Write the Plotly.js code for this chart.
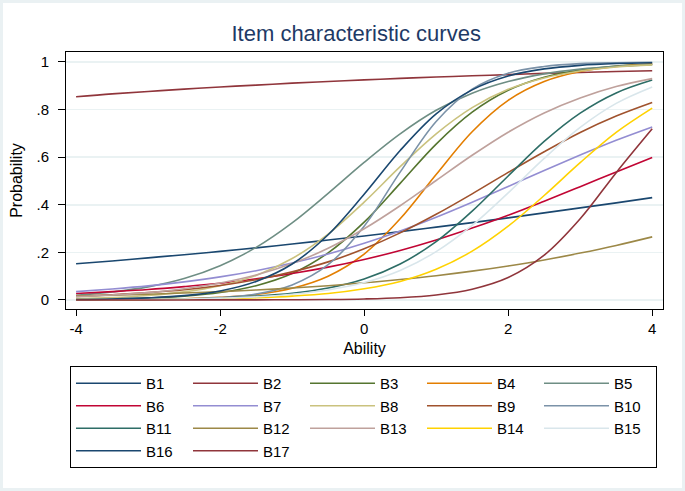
<!DOCTYPE html>
<html>
<head>
<meta charset="utf-8">
<script src="https://cdn.plot.ly/plotly-3.0.1.min.js"></script>
<style>
html,body{margin:0;padding:0;background:#fff;}
#wrap{position:relative;width:685px;height:491px;}
#chart{width:685px;height:491px;}
#edge{position:absolute;left:0;top:0;width:685px;height:491px;box-sizing:border-box;border:3px solid #eaf1f3;pointer-events:none;}
</style>
</head>
<body>
<div id="wrap"><div id="chart"></div><div id="edge"></div></div>
<script>
// Ability grid
const ability = [-4,-3.5,-3,-2.5,-2,-1.5,-1,-0.5,0,0.5,1,1.5,2,2.5,3,3.5,4];

// Probability for each item
const B1  = [0.152,0.164,0.177,0.190,0.204,0.219,0.235,0.252,0.269,0.287,0.306,0.325,0.345,0.366,0.387,0.408,0.430];
const B2  = [0.854,0.866,0.876,0.886,0.895,0.903,0.911,0.918,0.925,0.931,0.937,0.942,0.947,0.952,0.956,0.960,0.963];
const B3  = [0.0021,0.0041,0.0082,0.016,0.031,0.060,0.111,0.198,0.327,0.490,0.655,0.789,0.881,0.936,0.966,0.983,0.991];
const B4  = [0.0005,0.0011,0.0024,0.0051,0.011,0.023,0.049,0.100,0.193,0.341,0.527,0.707,0.839,0.918,0.960,0.981,0.991];
const B5  = [0.020,0.034,0.055,0.090,0.144,0.221,0.324,0.448,0.578,0.698,0.797,0.869,0.918,0.950,0.970,0.982,0.989];
const B6  = [0.027,0.035,0.044,0.056,0.070,0.089,0.111,0.138,0.170,0.208,0.252,0.302,0.356,0.415,0.476,0.538,0.599];
const B7  = [0.035,0.046,0.059,0.076,0.097,0.123,0.155,0.193,0.238,0.290,0.348,0.411,0.477,0.544,0.609,0.671,0.727];
const B8  = [0.0057,0.010,0.019,0.034,0.060,0.103,0.174,0.277,0.411,0.560,0.698,0.808,0.885,0.933,0.962,0.979,0.988];
const B9  = [0.015,0.022,0.031,0.043,0.061,0.085,0.118,0.160,0.215,0.282,0.360,0.446,0.536,0.623,0.704,0.773,0.830];
const B10 = [0.0002,0.0006,0.0015,0.0039,0.010,0.025,0.063,0.148,0.310,0.537,0.750,0.886,0.953,0.981,0.993,0.997,0.999];
const B11 = [0.0008,0.0014,0.0026,0.0047,0.0085,0.016,0.028,0.050,0.088,0.151,0.245,0.373,0.521,0.666,0.785,0.870,0.924];
const B12 = [0.016,0.020,0.024,0.029,0.035,0.042,0.050,0.060,0.072,0.086,0.102,0.121,0.143,0.168,0.197,0.229,0.265];
const B13 = [0.014,0.021,0.031,0.047,0.071,0.105,0.153,0.217,0.299,0.396,0.502,0.608,0.705,0.786,0.849,0.897,0.930];
const B14 = [0.0006,0.0010,0.0017,0.0030,0.0053,0.0092,0.016,0.027,0.047,0.078,0.129,0.205,0.310,0.439,0.577,0.704,0.806];
const B15 = [0.0007,0.0013,0.0024,0.0042,0.0075,0.013,0.024,0.042,0.073,0.124,0.203,0.313,0.450,0.595,0.725,0.826,0.895];
const B16 = [0.0020,0.0042,0.0088,0.018,0.038,0.078,0.151,0.274,0.444,0.628,0.782,0.883,0.941,0.971,0.986,0.9935,0.997];
const B17 = [0.0000,0.0000,0.0000,0.0001,0.0002,0.0004,0.0009,0.0019,0.0042,0.0094,0.021,0.045,0.094,0.188,0.341,0.535,0.719];

const itemNames = ["B1","B2","B3","B4","B5","B6","B7","B8","B9","B10","B11","B12","B13","B14","B15","B16","B17"];
const itemSeries = [B1,B2,B3,B4,B5,B6,B7,B8,B9,B10,B11,B12,B13,B14,B15,B16,B17];
const itemColors = ["#1a476f","#90353b","#55752f","#e37e00","#6e8e84","#c10534","#938dd2","#cac27e",
                    "#a0522d","#7b92a8","#2d6d66","#9c8847","#bfa19c","#ffd200","#d9e6eb","#1a476f","#90353b"];

const yTickVals = [0,0.2,0.4,0.6,0.8,1];
const yTickText = ["0",".2",".4",".6",".8","1"];
const xTickVals = [-4,-2,0,2,4];
const xTickText = ["-4","-2","0","2","4"];

const traces = itemSeries.map((s,i)=>({
  x: ability, y: s, type:'scatter', mode:'lines', name: itemNames[i],
  line:{color:itemColors[i], width:1.6, shape:'spline', smoothing:1.0}
}));

const FONT = "Liberation Sans, Arial, Helvetica, sans-serif";
const layout = {
  width:685, height:491,
  paper_bgcolor:'#ffffff', plot_bgcolor:'#ffffff',
  margin:{l:66, r:22, t:52, b:182},
  font:{family:FONT, size:14, color:'#000'},
  title:{text:'Item characteristic curves', font:{family:FONT, size:22, color:'#1e3a66'},
         xref:'container', x:0.52, xanchor:'center', yref:'container', y:0.933, yanchor:'middle'},
  xaxis:{range:[-4.14,4.15], tickvals:xTickVals, ticktext:xTickText, ticks:'outside', ticklen:6,
         tickcolor:'#000', showline:true, linecolor:'#000', linewidth:1, mirror:true,
         showgrid:false, zeroline:false, tickfont:{size:15},
         title:{text:'Ability', font:{size:16}, standoff:6}},
  yaxis:{range:[-0.038,1.042], tickvals:yTickVals, ticktext:yTickText, ticks:'outside', ticklen:7,
         ticklabelstandoff:6,
         tickcolor:'#000', showline:true, linecolor:'#000', linewidth:1, mirror:true,
         showgrid:true, gridcolor:'#eaf2f3', gridwidth:1.5, zeroline:false, tickfont:{size:15},
         title:{text:'Probability', font:{size:16}, standoff:9}},
  showlegend:true,
  legend:{orientation:'h', x:0.0067, xanchor:'left', y:-0.222, yanchor:'top',
          entrywidth:37, entrywidthmode:'pixels', itemwidth:65,
          bordercolor:'#000', borderwidth:1, bgcolor:'#fff', font:{size:15}, traceorder:'normal'}
};

Plotly.newPlot('chart', traces, layout, {displayModeBar:false, staticPlot:true});
</script>
</body>
</html>
